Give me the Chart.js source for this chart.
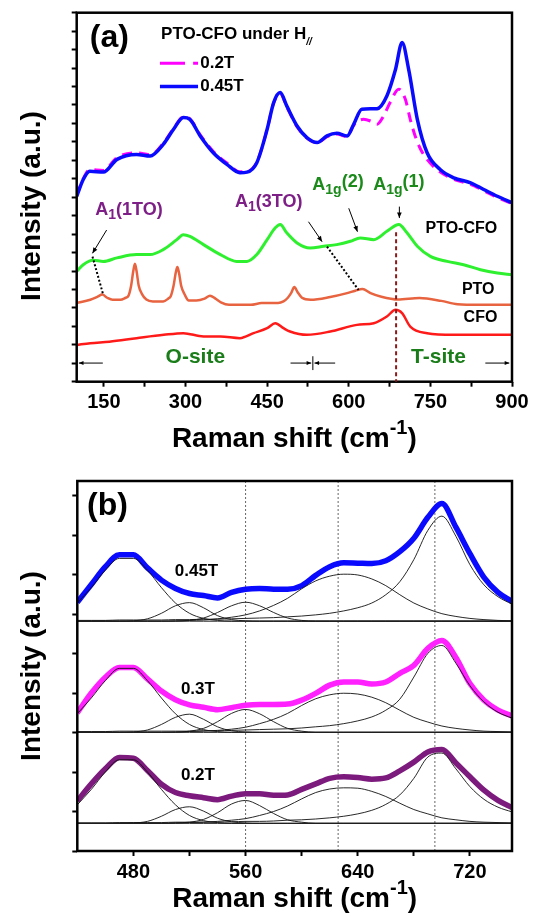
<!DOCTYPE html>
<html>
<head>
<meta charset="utf-8">
<script src="https://cdn.jsdelivr.net/npm/chart.js@4.4.0/dist/chart.umd.min.js"></script>
<style>
  body { margin: 0; background: #fff; width: 538px; height: 917px; overflow: hidden; position: relative; }
  #wrapA { position: absolute; left: 0; top: 0; width: 538px; height: 460px; }
  #wrapB { position: absolute; left: 0; top: 460px; width: 538px; height: 457px; }
</style>
</head>
<body>
<div id="wrapA"><canvas id="chartA"></canvas></div>
<div id="wrapB"><canvas id="chartB"></canvas></div>
<script>
// ---------- panel (a): Raman spectra, 100-900 cm-1 ----------
const TICKS_A = [150, 300, 450, 600, 750, 900];
const LABELS_A = ['0.2T', '0.45T'];

const H045_X = [100,112,124,149,174,210,235,259,278,296,308,327,351,376,400,413,431,450,462,474,486,505,523,542,560,578,597,609,624,652,670,686,698,710,726,744,768,793,824,848,873,900];
const H045_Y = [10.05,10.96,11.41,11.36,12.05,12.32,12.23,12.86,13.68,14.32,14.22,13.32,12.41,11.78,11.33,11.36,11.87,13.68,15.13,15.67,14.95,13.86,13.23,12.96,13.32,13.46,13.32,13.95,14.77,14.80,15.49,16.94,18.39,16.94,14.22,12.41,11.5,11.05,10.78,10.42,10.05,9.7];

const H02_X = [100,112,124,149,174,210,235,259,278,296,308,327,351,376,400,413,431,450,462,474,486,505,523,542,560,578,597,609,627,640,652,664,676,692,704,713,722,732,744,762,781,800,824,848,873,900];
const H02_Y = [10.1,11.0,11.5,11.45,12.15,12.4,12.3,12.92,13.72,14.35,14.25,13.38,12.48,11.85,11.38,11.4,11.9,13.68,15.1,15.62,14.9,13.82,13.2,12.95,13.28,13.42,13.28,13.9,14.22,14.13,13.95,14.4,15.13,15.85,15.31,14.22,13.32,12.6,12.05,11.5,11.14,10.9,10.7,10.35,9.98,9.65];

const PTOCFO_X = [100,112,130,149,174,210,235,259,284,296,308,333,364,394,413,431,450,465,474,486,505,529,554,578,603,621,646,670,692,707,726,750,781,811,842,873,900];
const PTOCFO_Y = [5.98,6.34,6.58,6.52,6.71,6.89,6.89,7.16,7.70,7.97,7.88,7.43,6.89,6.52,6.52,6.89,7.70,8.34,8.52,8.07,7.52,7.25,7.34,7.43,7.61,7.79,7.70,8.15,8.52,8.07,7.34,6.79,6.52,6.34,6.07,5.89,5.8];

const PTO_X = [100,125,138,147,156,166,180,190,195,200,204,207,210,214,220,228,240,259,268,273,278,282,285,288,292,298,306,320,335,345,355,365,380,420,440,470,480,488,494,500,506,514,530,566,597,612,625,640,660,690,730,770,800,840,900];
const PTO_Y = [4.26,4.44,4.60,4.72,4.55,4.44,4.44,4.55,4.65,5.2,6.0,6.39,6.0,5.2,4.75,4.45,4.35,4.35,4.5,4.65,5.2,5.9,6.22,5.9,5.2,4.75,4.4,4.4,4.5,4.66,4.5,4.3,4.17,4.17,4.26,4.26,4.35,4.55,4.8,5.13,4.85,4.55,4.44,4.59,4.80,4.93,5.02,4.8,4.6,4.45,4.53,4.38,4.2,4.17,4.17];

const CFO_X = [100,125,160,210,260,296,333,364,400,425,450,465,480,492,523,566,615,646,670,686,698,713,744,793,842,900];
const CFO_Y = [1.99,2.09,2.17,2.36,2.54,2.63,2.45,2.45,2.36,2.63,2.90,3.17,2.90,2.72,2.54,2.72,3.08,3.17,3.53,3.90,3.72,2.99,2.63,2.54,2.54,2.54];

// ---------- panel (b): fitted spectra, 440-750 cm-1 ----------
const TICKS_B = [480, 560, 640, 720];
const LABELS_B = ['0.45T', '0.3T', '0.2T'];
const X_B = [440,450,460,470,480,490,500,510,520,530,540,550,560,570,580,590,600,610,620,630,640,650,660,670,680,690,700,710,720,730,740,750];
const BASE_B = [5.82, 3.005, 0.70];
const PEAKS_B = [560, 626, 695];

const D045 = [6.30,6.75,7.20,7.50,7.50,7.17,6.86,6.65,6.52,6.47,6.41,6.55,6.63,6.65,6.63,6.63,6.72,6.98,7.20,7.30,7.29,7.28,7.35,7.58,7.92,8.45,8.80,8.20,7.53,6.93,6.55,6.32];
const D03  = [3.50,4.00,4.40,4.65,4.65,4.36,4.05,3.83,3.70,3.64,3.58,3.63,3.69,3.71,3.71,3.72,3.82,3.99,4.20,4.28,4.28,4.23,4.28,4.50,4.70,5.13,5.33,4.90,4.24,3.82,3.57,3.42];
const D02  = [1.27,1.70,2.08,2.37,2.35,2.04,1.69,1.48,1.40,1.35,1.30,1.39,1.45,1.45,1.41,1.42,1.56,1.70,1.84,1.88,1.86,1.82,1.85,2.03,2.25,2.51,2.57,2.23,1.88,1.54,1.28,1.10];

// fitted components, height above each baseline
const P1_045 = [0.46,0.85,1.29,1.59,1.59,1.29,0.85,0.46,0.20,0.07,0.02,0,0,0,0,0,0,0,0,0,0,0,0,0,0,0,0,0,0,0,0,0];
const P2_045 = [0,0,0,0,0.01,0.06,0.20,0.39,0.47,0.34,0.14,0.04,0.01,0,0,0,0,0,0,0,0,0,0,0,0,0,0,0,0,0,0,0];
const P3_045 = [0,0,0,0,0,0,0,0,0.02,0.08,0.22,0.39,0.48,0.39,0.22,0.08,0.02,0,0,0,0,0,0,0,0,0,0,0,0,0,0,0];
const P4_045 = [0,0,0,0,0,0,0,0.01,0.02,0.03,0.06,0.10,0.16,0.26,0.40,0.58,0.82,1.02,1.14,1.19,1.17,1.07,0.90,0.67,0.46,0.31,0.19,0.12,0.07,0.04,0.02,0.01];
const P5_045 = [0.02,0.02,0.02,0.03,0.03,0.03,0.03,0.04,0.04,0.05,0.05,0.06,0.07,0.08,0.09,0.11,0.13,0.16,0.20,0.26,0.34,0.46,0.67,1.00,1.56,2.30,2.66,2.15,1.43,0.92,0.62,0.43];

const P1_03 = [0.47,0.87,1.31,1.62,1.62,1.31,0.87,0.47,0.20,0.07,0.02,0,0,0,0,0,0,0,0,0,0,0,0,0,0,0,0,0,0,0,0,0];
const P2_03 = [0,0,0,0,0.01,0.06,0.20,0.38,0.46,0.33,0.14,0.04,0.01,0,0,0,0,0,0,0,0,0,0,0,0,0,0,0,0,0,0,0];
const P3_03 = [0,0,0,0,0,0,0,0,0.03,0.10,0.27,0.48,0.58,0.47,0.27,0.10,0.03,0,0,0,0,0,0,0,0,0,0,0,0,0,0,0];
const P4_03 = [0,0,0,0,0,0,0,0.01,0.02,0.03,0.05,0.08,0.13,0.22,0.33,0.48,0.68,0.85,0.95,0.99,0.97,0.89,0.75,0.56,0.38,0.26,0.16,0.10,0.06,0.03,0.02,0.01];
const P5_03 = [0.02,0.02,0.02,0.03,0.03,0.03,0.03,0.03,0.03,0.04,0.04,0.05,0.06,0.07,0.08,0.09,0.11,0.14,0.17,0.22,0.29,0.39,0.56,0.84,1.40,2.00,2.20,1.75,1.18,0.77,0.51,0.36];

const P1_02 = [0.47,0.86,1.30,1.61,1.61,1.30,0.86,0.47,0.20,0.07,0.02,0,0,0,0,0,0,0,0,0,0,0,0,0,0,0,0,0,0,0,0,0];
const P2_02 = [0,0,0,0,0.01,0.05,0.18,0.35,0.42,0.31,0.13,0.04,0.01,0,0,0,0,0,0,0,0,0,0,0,0,0,0,0,0,0,0,0];
const P3_02 = [0,0,0,0,0,0,0,0.01,0.03,0.10,0.27,0.49,0.58,0.45,0.25,0.09,0.03,0,0,0,0,0,0,0,0,0,0,0,0,0,0,0];
const P4_02 = [0,0,0,0,0,0,0,0.01,0.02,0.03,0.05,0.08,0.12,0.20,0.30,0.44,0.62,0.78,0.87,0.90,0.89,0.81,0.68,0.51,0.35,0.24,0.14,0.09,0.05,0.03,0.02,0.01];
const P5_02 = [0.01,0.01,0.01,0.02,0.02,0.02,0.02,0.03,0.03,0.03,0.03,0.04,0.05,0.05,0.06,0.08,0.09,0.11,0.14,0.18,0.24,0.33,0.48,0.72,1.14,1.68,1.78,1.38,0.93,0.61,0.41,0.29];

// ---------- helpers ----------
const FAMILY = '"Liberation Sans", Arial, sans-serif';
const font = (size, style) => (style || 'bold') + ' ' + size + 'px ' + FAMILY;
Chart.defaults.font.family = FAMILY;
Chart.defaults.color = '#000';

const pts = (xs, ys) => xs.map((x, i) => ({ x: x, y: ys[i] }));
const line = (label, data, color, width, extra) => Object.assign({
  label: label, data: data, borderColor: color, borderWidth: width,
  pointRadius: 0, fill: false, cubicInterpolationMode: 'monotone'
}, extra || {});

function text(ctx, s, x, y, size, color, align, base) {
  ctx.font = font(size);
  ctx.fillStyle = color || '#000';
  ctx.textAlign = align || 'left';
  ctx.textBaseline = base || 'middle';
  ctx.fillText(s, x, y);
}

// draws a run of [string, size, dy] pieces side by side
function runs(ctx, parts, x, y, color) {
  ctx.fillStyle = color;
  ctx.textAlign = 'left';
  ctx.textBaseline = 'alphabetic';
  parts.forEach(p => {
    ctx.font = font(p[1], p[3]);
    ctx.fillText(p[0], x, y + p[2]);
    x += ctx.measureText(p[0]).width;
  });
}

function arrow(ctx, x1, y1, x2, y2, head) {
  head = head || 6;
  const ang = Math.atan2(y2 - y1, x2 - x1);
  ctx.beginPath();
  ctx.moveTo(x1, y1);
  ctx.lineTo(x2, y2);
  ctx.stroke();
  ctx.beginPath();
  ctx.moveTo(x2, y2);
  ctx.lineTo(x2 - head * Math.cos(ang - 0.4), y2 - head * Math.sin(ang - 0.4));
  ctx.lineTo(x2 - head * Math.cos(ang + 0.4), y2 - head * Math.sin(ang + 0.4));
  ctx.closePath();
  ctx.fill();
}

function yTitle(ctx, x, y) {
  ctx.save();
  ctx.translate(x, y);
  ctx.rotate(-Math.PI / 2);
  text(ctx, 'Intensity (a.u.)', 0, 0, 28, '#000', 'center', 'middle');
  ctx.restore();
}

function xTitle(ctx, cx, baseY) {
  ctx.font = font(28);
  const w1 = ctx.measureText('Raman shift (cm').width;
  const w3 = ctx.measureText(')').width;
  ctx.font = font(20);
  const w2 = ctx.measureText('-1').width;
  runs(ctx, [['Raman shift (cm', 28, 0], ['-1', 20, -13], [')', 28, 0]], cx - (w1 + w2 + w3) / 2, baseY, '#000');
}

const frame = {
  id: 'frame',
  afterDraw(chart) {
    const { ctx, chartArea: a } = chart;
    ctx.save();
    ctx.lineWidth = 2.5;
    ctx.strokeStyle = '#000';
    ctx.strokeRect(a.left, a.top, a.right - a.left, a.bottom - a.top);
    ctx.restore();
  }
};

const gridOpts = { drawOnChartArea: false, drawTicks: true, tickLength: 5, tickWidth: 2, tickColor: '#000' };

// ---------- chart (a) ----------
const annotA = {
  id: 'annotA',
  afterDraw(chart) {
    const { ctx, chartArea: a } = chart;
    const X = v => chart.scales.x.getPixelForValue(v);
    const Y = v => chart.scales.y.getPixelForValue(v);
    ctx.save();
    yTitle(ctx, 32, 206);
    xTitle(ctx, (a.left + a.right) / 2, 447);

    text(ctx, '(a)', X(124), Y(18.63), 32);
    ctx.font = font(17);
    const wH = ctx.measureText('PTO-CFO under H').width;
    text(ctx, 'PTO-CFO under H', X(255), Y(18.85), 17);
    ctx.font = font(10, 'italic bold');
    ctx.fillText('//', X(255) + wH, Y(18.85) + 8);

    // legend
    ctx.lineWidth = 3;
    ctx.strokeStyle = '#ff00ff';
    ctx.beginPath();
    ctx.moveTo(X(253), Y(17.26)); ctx.lineTo(X(299), Y(17.26));
    ctx.moveTo(X(314), Y(17.26)); ctx.lineTo(X(323), Y(17.26));
    ctx.stroke();
    ctx.lineWidth = 3.5;
    ctx.strokeStyle = '#0a0aff';
    ctx.beginPath();
    ctx.moveTo(X(253), Y(16.0)); ctx.lineTo(X(323), Y(16.0));
    ctx.stroke();
    text(ctx, LABELS_A[0], X(327), Y(17.26), 17);
    text(ctx, LABELS_A[1], X(327), Y(16.0), 17);

    // curve names
    text(ctx, 'PTO-CFO', X(741), Y(8.28), 16);
    text(ctx, 'PTO', X(808), Y(4.97), 16);
    text(ctx, 'CFO', X(811), Y(3.45), 16);

    // mode labels
    const purple = '#7d1f86', green = '#1b8a1b';
    runs(ctx, [['A', 18, 0], ['1', 14, 4], ['(1TO)', 18, 0]], X(134), Y(9.03), purple);
    runs(ctx, [['A', 18, 0], ['1', 14, 4], ['(3TO)', 18, 0]], X(391), Y(9.47), purple);
    runs(ctx, [['A', 18, 0], ['1g', 14, 4], ['(2)', 18, -3]], X(533), Y(10.39), green);
    runs(ctx, [['A', 18, 0], ['1g', 14, 4], ['(1)', 18, -3]], X(645), Y(10.39), green);

    ctx.strokeStyle = '#000';
    ctx.fillStyle = '#000';
    ctx.lineWidth = 1;
    arrow(ctx, X(155), Y(8.22), X(129), Y(6.96));
    arrow(ctx, X(526), Y(8.67), X(551), Y(7.59));
    arrow(ctx, X(600), Y(9.40), X(616), Y(8.13));
    arrow(ctx, X(693), Y(9.49), X(693), Y(8.87));

    ctx.lineWidth = 2;
    ctx.setLineDash([2, 2]);
    ctx.beginPath();
    ctx.moveTo(X(129), Y(6.78)); ctx.lineTo(X(148), Y(4.79));
    ctx.moveTo(X(560), Y(7.32)); ctx.lineTo(X(618), Y(4.97));
    ctx.stroke();
    ctx.strokeStyle = '#8b1a1a';
    ctx.setLineDash([4, 3]);
    ctx.beginPath();
    ctx.moveTo(X(687), Y(8.1)); ctx.lineTo(X(687), a.bottom);
    ctx.stroke();
    ctx.setLineDash([]);

    // site regions
    text(ctx, 'O-site', X(318), Y(1.34), 21, '#1a7d1a', 'center');
    text(ctx, 'T-site', X(765), Y(1.34), 21, '#1a7d1a', 'center');
    ctx.strokeStyle = '#000';
    ctx.fillStyle = '#000';
    ctx.lineWidth = 1;
    arrow(ctx, X(148), Y(1.01), X(104), Y(1.01), 5);
    arrow(ctx, X(493), Y(1.01), X(531), Y(1.01), 5);
    arrow(ctx, X(575), Y(1.01), X(537), Y(1.01), 5);
    arrow(ctx, X(851), Y(1.01), X(895), Y(1.01), 5);
    ctx.beginPath();
    ctx.moveTo(X(534), Y(0.63)); ctx.lineTo(X(534), Y(1.38));
    ctx.stroke();
    ctx.restore();
  }
};

new Chart(document.getElementById('chartA'), {
  type: 'line',
  data: {
    datasets: [
      line(LABELS_A[1], pts(H045_X, H045_Y), '#0a0aff', 3.5, { order: 0 }),
      line(LABELS_A[0], pts(H02_X, H02_Y), '#ff00ff', 3, { order: 1, borderDash: [10, 7] }),
      line('PTO-CFO', pts(PTOCFO_X, PTOCFO_Y), '#2ef02e', 3, { order: 2 }),
      line('PTO', pts(PTO_X, PTO_Y), '#e8633f', 2.5, { order: 3 }),
      line('CFO', pts(CFO_X, CFO_Y), '#ff1a1a', 2.5, { order: 4 })
    ]
  },
  options: {
    responsive: true,
    maintainAspectRatio: false,
    animation: false,
    layout: { padding: { top: 12.7, right: 26, left: 0, bottom: 0 } },
    plugins: { legend: { display: false }, tooltip: { enabled: false } },
    scales: {
      x: {
        type: 'linear', min: 100, max: 900,
        afterBuildTicks: s => {
          const t = [];
          for (let v = 150; v <= 900; v += 75) t.push({ value: v });
          s.ticks = t;
        },
        afterFit: s => { s.height = 78.3; },
        grid: gridOpts,
        border: { display: false },
        ticks: {
          autoSkip: false, maxRotation: 0, padding: 4, color: '#000',
          font: { size: 20, weight: 'bold' },
          callback: v => TICKS_A.includes(v) ? String(v) : ''
        }
      },
      y: {
        min: 0, max: 20,
        afterBuildTicks: s => {
          const t = [];
          for (let v = 0; v <= 20; v++) t.push({ value: v });
          s.ticks = t;
        },
        afterFit: s => { s.width = 76.7; },
        grid: gridOpts,
        border: { display: false },
        ticks: { display: false }
      }
    }
  },
  plugins: [frame, annotA]
});

// ---------- chart (b) ----------
const annotB = {
  id: 'annotB',
  beforeDatasetsDraw(chart) {
    const { ctx, chartArea: a } = chart;
    const X = v => chart.scales.x.getPixelForValue(v);
    ctx.save();
    ctx.strokeStyle = '#666';
    ctx.lineWidth = 1;
    ctx.setLineDash([2, 2]);
    PEAKS_B.forEach(p => {
      ctx.beginPath();
      ctx.moveTo(X(p), a.top);
      ctx.lineTo(X(p), a.bottom);
      ctx.stroke();
    });
    ctx.restore();
  },
  afterDraw(chart) {
    const { ctx, chartArea: a } = chart;
    const X = v => chart.scales.x.getPixelForValue(v);
    const Y = v => chart.scales.y.getPixelForValue(v);
    ctx.save();
    yTitle(ctx, 32, (a.top + a.bottom) / 2);
    xTitle(ctx, (a.left + a.right) / 2, 446.7);
    text(ctx, '(b)', X(447), Y(8.73), 32);
    text(ctx, LABELS_B[0], X(525), Y(7.09), 17, '#000', 'center');
    text(ctx, LABELS_B[1], X(526), Y(4.10), 17, '#000', 'center');
    text(ctx, LABELS_B[2], X(526), Y(1.92), 17, '#000', 'center');
    ctx.restore();
  }
};

const spectraB = [
  { data: D045, color: '#0a0aff', peaks: [P1_045, P2_045, P3_045, P4_045, P5_045] },
  { data: D03,  color: '#ff22ff', peaks: [P1_03, P2_03, P3_03, P4_03, P5_03] },
  { data: D02,  color: '#7d1a7d', peaks: [P1_02, P2_02, P3_02, P4_02, P5_02] }
];

const setsB = [];
spectraB.forEach((s, i) => {
  const base = BASE_B[i];
  setsB.push(line('base ' + LABELS_B[i], pts(X_B, X_B.map(() => base)), '#222', 1, { order: 0 }));
  s.peaks.forEach((p, j) => {
    setsB.push(line(LABELS_B[i] + ' peak ' + (j + 1), pts(X_B, p.map(v => v + base)), '#111', 0.9, { order: 0 }));
  });
  setsB.push(line(LABELS_B[i], pts(X_B, s.data), s.color, 5.5, { order: 1 }));
});

new Chart(document.getElementById('chartB'), {
  type: 'line',
  data: { datasets: setsB },
  options: {
    responsive: true,
    maintainAspectRatio: false,
    animation: false,
    layout: { padding: { top: 21, right: 26, left: 0, bottom: 0 } },
    plugins: { legend: { display: false }, tooltip: { enabled: false } },
    scales: {
      x: {
        type: 'linear', min: 440, max: 750,
        afterBuildTicks: s => {
          const t = [];
          for (let v = 480; v <= 720; v += 40) t.push({ value: v });
          s.ticks = t;
        },
        afterFit: s => { s.height = 66; },
        grid: gridOpts,
        border: { display: false },
        ticks: {
          autoSkip: false, maxRotation: 0, padding: 4, color: '#000',
          font: { size: 20, weight: 'bold' },
          callback: v => TICKS_B.includes(v) ? String(v) : ''
        }
      },
      y: {
        min: 0, max: 9.37,
        afterBuildTicks: s => {
          const t = [];
          for (let v = 0; v <= 9; v++) t.push({ value: v });
          s.ticks = t;
        },
        afterFit: s => { s.width = 77.3; },
        grid: gridOpts,
        border: { display: false },
        ticks: { display: false }
      }
    }
  },
  plugins: [frame, annotB]
});
</script>
</body>
</html>
